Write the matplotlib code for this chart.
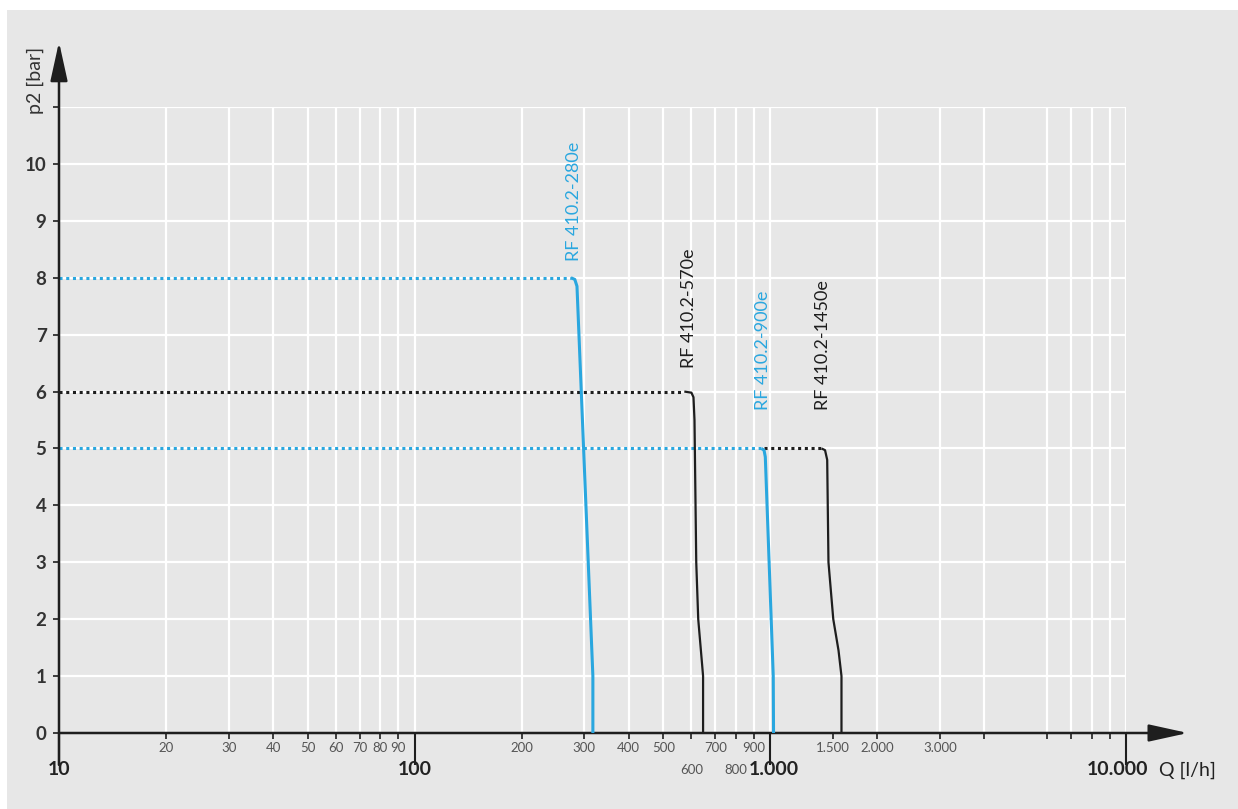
import matplotlib.pyplot as plt
from matplotlib.patches import Rectangle

plt.rcParams['font.family'] = ['Lato', 'DejaVu Sans']

BLUE = '#2aa7df'
BLACK = '#1e1e1e'
BG = '#e7e7e7'

# flat (dotted) parts and drop (solid) parts of each curve, Q in l/h, p2 in bar
q_flat_280 = [10, 275]
p_flat_280 = [8, 8]
q_drop_280 = [275, 282, 286, 317, 317]
p_drop_280 = [8.0, 7.97, 7.85, 1.0, 0.0]

q_flat_570 = [10, 573]
p_flat_570 = [6, 6]
q_drop_570 = [573, 600, 608, 612, 619, 627, 643, 647, 647]
p_drop_570 = [6.0, 5.98, 5.9, 5.5, 3.0, 2.0, 1.2, 1.0, 0.0]

q_flat_900 = [10, 944]
p_flat_900 = [5, 5]
q_drop_900 = [944, 960, 968, 1019, 1021]
p_drop_900 = [5.0, 4.97, 4.85, 1.0, 0.0]

q_flat_1450 = [962, 1393]
p_flat_1450 = [5, 5]
q_drop_1450 = [1393, 1425, 1445, 1457, 1503, 1555, 1585, 1585]
p_drop_1450 = [5.0, 4.97, 4.8, 3.0, 2.0, 1.45, 1.0, 0.0]

curve_names = ['RF 410.2-280e', 'RF 410.2-570e', 'RF 410.2-900e', 'RF 410.2-1450e']
curve_colors = [BLUE, BLACK, BLUE, BLACK]
label_q = [281, 590, 955, 1410]
label_p = [8.3, 6.42, 5.67, 5.67]

y_ticks = list(range(0, 12))
y_labels = [str(v) for v in range(0, 11)] + ['']

major_q = [10, 100, 1000, 10000]
major_labels = ['10', '100', '1.000', '10.000']
minor_q = [20, 30, 40, 50, 60, 70, 80, 90,
           200, 300, 400, 500, 600, 700, 800, 900,
           1500, 2000, 3000, 4000, 6000, 7000, 8000, 9000]
row1_q = [20, 30, 40, 50, 60, 70, 80, 90, 200, 300, 400, 500, 700, 900, 1500, 2000, 3000]
row1_labels = ['20', '30', '40', '50', '60', '70', '80', '90', '200', '300', '400', '500',
               '700', '900', '1.500', '2.000', '3.000']
row2_q = [600, 800]
row2_labels = ['600', '800']
grid_q = [20, 30, 40, 50, 60, 70, 80, 90, 100, 200, 300, 400, 500, 600, 700, 800, 900,
          1000, 2000, 3000, 4000, 6000, 7000, 8000, 9000, 10000]

fig = plt.figure(figsize=(12.38, 8.09), dpi=100)
fig.patches.append(Rectangle((7 / 1238, 0), 1, 799 / 809, transform=fig.transFigure,
                             facecolor=BG, edgecolor='none', zorder=-10))

ax = fig.add_axes([59 / 1238, 76 / 809, 1067 / 1238, 626 / 809])
ax.set_zorder(5)
ax.patch.set_visible(False)
ax.set_xscale('log')
ax.set_xlim(10, 10000)
ax.set_ylim(0, 11)
for s in ax.spines.values():
    s.set_visible(False)

# white grid
ax.hlines(y_ticks[1:], 10, 10000, colors='white', lw=1.6, zorder=1)
ax.vlines(grid_q, 0, 11, colors='white', lw=1.6, zorder=1)

# curves
flats = [(q_flat_280, p_flat_280), (q_flat_570, p_flat_570),
         (q_flat_900, p_flat_900), (q_flat_1450, p_flat_1450)]
drops = [(q_drop_280, p_drop_280), (q_drop_570, p_drop_570),
         (q_drop_900, p_drop_900), (q_drop_1450, p_drop_1450)]
for (qf, pf), (qd, pd), c in zip(flats, drops, curve_colors):
    lw = 2.2 if c == BLUE else 1.6
    ax.plot(qf, pf, color=c, lw=2.2, linestyle=(0, (1.0, 1.2)), zorder=3)
    ax.plot(qd, pd, color=c, lw=lw, zorder=4, solid_capstyle='butt')

for name, q, p, c in zip(curve_names, label_q, label_p, curve_colors):
    ax.text(q, p, name, rotation=90, ha='center', va='bottom', color=c,
            fontsize=13, zorder=5)

# axes with arrows
arrow = dict(arrowstyle='-|>,head_length=1.0,head_width=0.22', mutation_scale=24,
             lw=1.8, color=BLACK, shrinkA=0, shrinkB=0)
ax.annotate('', xy=(1.058, 0), xytext=(0, 0), xycoords='axes fraction',
            arrowprops=arrow, annotation_clip=False)
ax.annotate('', xy=(0, 1.104), xytext=(0, -0.051), xycoords='axes fraction',
            arrowprops=arrow, annotation_clip=False)

# ticks
ax.set_yticks(y_ticks, labels=y_labels)
ax.tick_params(axis='y', which='major', direction='out', length=4, width=1.2,
               color=BLACK, pad=5, labelsize=13.5, labelcolor='#333333')
for t in ax.get_yticklabels():
    t.set_fontweight('bold')

ax.set_xticks(major_q, labels=[''] * len(major_q))
ax.set_xticks(minor_q, labels=[''] * len(minor_q), minor=True)
ax.tick_params(axis='x', which='major', direction='out', length=23, width=1.5, color=BLACK)
ax.tick_params(axis='x', which='minor', direction='out', length=4, width=1.2, color=BLACK)

tr = ax.get_xaxis_transform()
for q, lab in zip(row1_q, row1_labels):
    ax.text(q, -0.024, lab, transform=tr, ha='center', va='center', fontsize=9.5,
            color='#555555')
for q, lab in zip(row2_q, row2_labels):
    ax.text(q, -0.059, lab, transform=tr, ha='center', va='center', fontsize=9.5,
            color='#555555')
for q, lab in zip(major_q[:3], major_labels[:3]):
    dx = 1.02 if q == 1000 else 1.0
    ax.text(q * dx, -0.059, lab, transform=tr, ha='center', va='center', fontsize=14,
            fontweight='bold', color='#222222')
ax.text(7760, -0.059, major_labels[3], transform=tr, ha='left', va='center', fontsize=14,
        fontweight='bold', color='#222222')
ax.text(12400, -0.059, 'Q [l/h]', transform=tr, ha='left', va='center', fontsize=14,
        color='#222222')

fig.text(35 / 1238, 1 - 80 / 809, 'p2 [bar]', rotation=90, ha='center', va='center',
         fontsize=14, color='#333333')

fig.savefig('out.png', dpi=100)
